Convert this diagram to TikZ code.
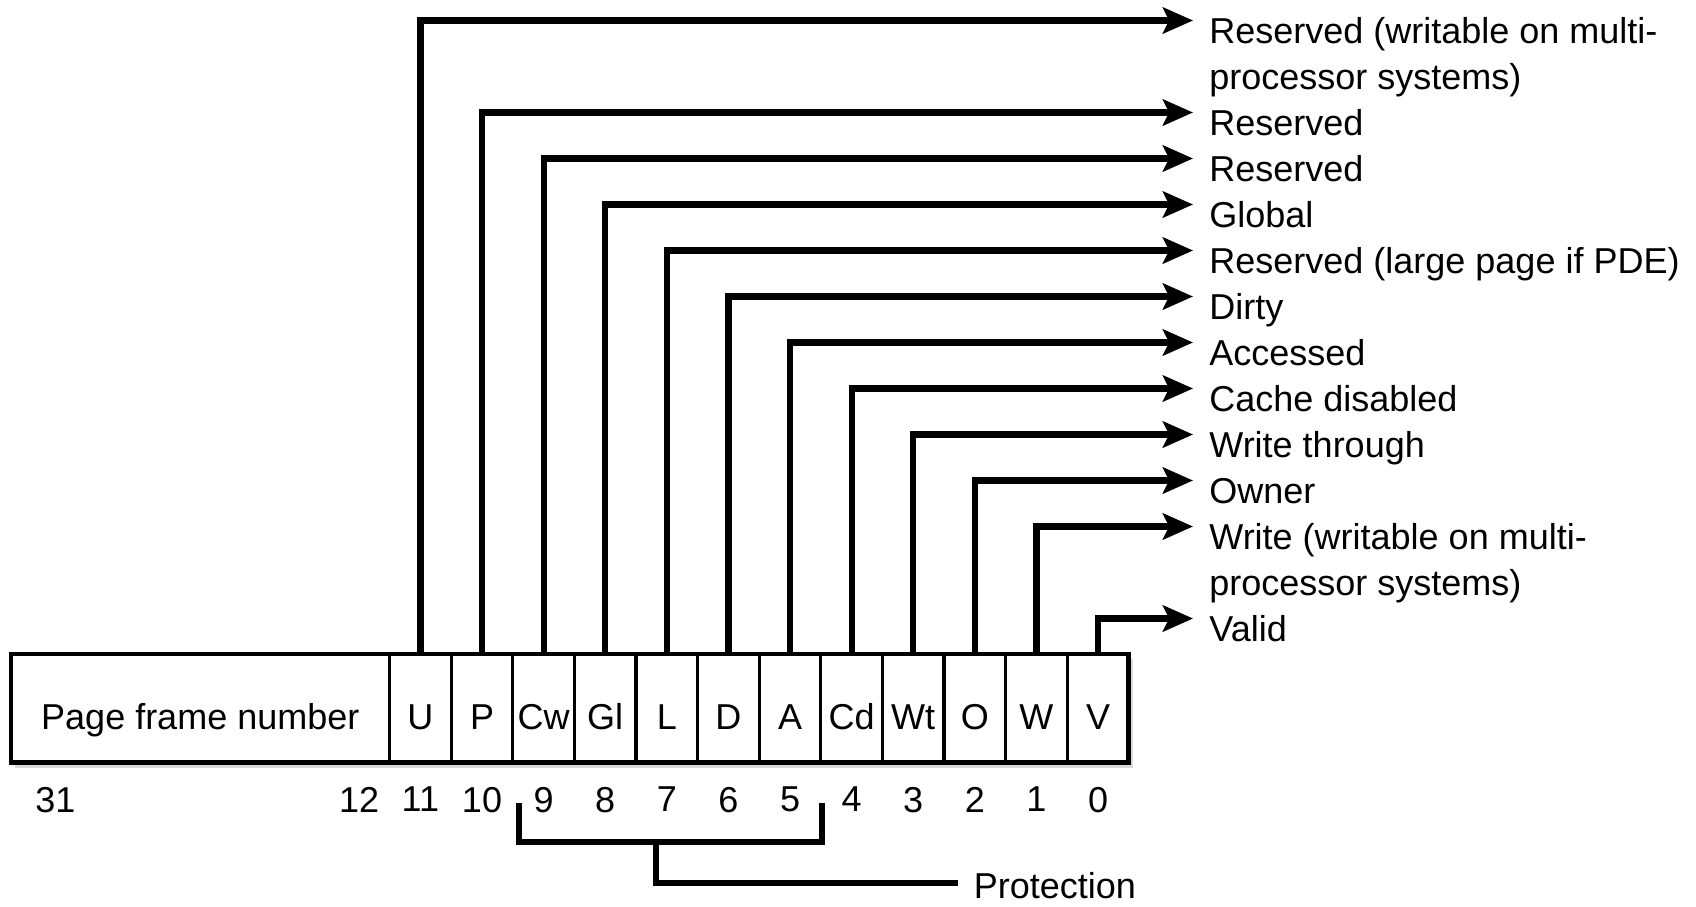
\documentclass[tikz,border=0pt]{standalone}
\usepackage{fontspec}
\setmainfont{Liberation Sans}
\usetikzlibrary{arrows.meta, positioning, backgrounds}

\begin{document}
\begin{tikzpicture}[
  x=0.5pt, y=-0.5pt,
  font=\fontsize{18}{23}\selectfont,
  cell/.style={rectangle, draw, line width=1.6pt, fill=white, minimum width=30.8pt, minimum height=54.25pt, inner sep=0pt, outer sep=0pt, text height=21.5pt, text depth=0pt},
  num/.style={inner sep=0pt},
  lbl/.style={anchor=north west, align=left, inner sep=0pt},
  arr/.style={-{Stealth[length=15pt, width=13pt, inset=3pt]}, line width=3.1pt},
  brk/.style={line width=3.2pt}
]
\useasboundingbox (0,0) rectangle (1696,906);

% the entry
\node[cell, anchor=north west, minimum width=189.3pt] (pfn) at (11,654) {Page frame number};
\node[cell, right=0pt of pfn] (b11) {U};
\node[cell, right=0pt of b11] (b10) {P};
\node[cell, right=0pt of b10] (b9) {Cw};
\node[cell, right=0pt of b9] (b8) {Gl};
\node[cell, right=0pt of b8] (b7) {L};
\node[cell, right=0pt of b7] (b6) {D};
\node[cell, right=0pt of b6] (b5) {A};
\node[cell, right=0pt of b5] (b4) {Cd};
\node[cell, right=0pt of b4] (b3) {Wt};
\node[cell, right=0pt of b3] (b2) {O};
\node[cell, right=0pt of b2] (b1) {W};
\node[cell, right=0pt of b1] (b0) {V};
\draw[line width=2.4pt] (pfn.north west) rectangle (b0.south east);
\begin{scope}[on background layer]
  \fill[black!15] ([shift={(4,5)}]pfn.north west) rectangle ([shift={(4,5)}]b0.south east);
\end{scope}

% bit numbers
\node[num, below right=12pt and 12pt of pfn.south west] (n31) {31};
\node[num, below left=12pt and 5pt of pfn.south east] (n12) {12};
\node[num, below=12pt of b11] (n11) {11};
\node[num, below=12pt of b10] (n10) {10};
\node[num, below=12pt of b9] (n9) {9};
\node[num, below=12pt of b8] (n8) {8};
\node[num, below=12pt of b7] (n7) {7};
\node[num, below=12pt of b6] (n6) {6};
\node[num, below=12pt of b5] (n5) {5};
\node[num, below=12pt of b4] (n4) {4};
\node[num, below=12pt of b3] (n3) {3};
\node[num, below=12pt of b2] (n2) {2};
\node[num, below=12pt of b1] (n1) {1};
\node[num, below=12pt of b0] (n0) {0};

% arrow ends
\coordinate (eU) at (1193,20.5);
\coordinate (eP) at (1193,112.5);
\coordinate (eCw) at (1193,158.5);
\coordinate (eGl) at (1193,204.5);
\coordinate (eL) at (1193,250.5);
\coordinate (eD) at (1193,296.5);
\coordinate (eA) at (1193,342.5);
\coordinate (eCd) at (1193,388.5);
\coordinate (eWt) at (1193,434.5);
\coordinate (eO) at (1193,480.5);
\coordinate (eW) at (1193,526.5);
\coordinate (eV) at (1193,618.5);

\node[lbl] (tU) at ([shift={(16,-10)}]eU) {\strut Reserved (writable on multi-\\processor systems)};
\node[lbl] (tP) at ([shift={(16,-10)}]eP) {\strut Reserved};
\node[lbl] (tCw) at ([shift={(16,-10)}]eCw) {\strut Reserved};
\node[lbl] (tGl) at ([shift={(16,-10)}]eGl) {\strut Global};
\node[lbl] (tL) at ([shift={(16,-10)}]eL) {\strut Reserved (large page if PDE)};
\node[lbl] (tD) at ([shift={(16,-10)}]eD) {\strut Dirty};
\node[lbl] (tA) at ([shift={(16,-10)}]eA) {\strut Accessed};
\node[lbl] (tCd) at ([shift={(16,-10)}]eCd) {\strut Cache disabled};
\node[lbl] (tWt) at ([shift={(16,-10)}]eWt) {\strut Write through};
\node[lbl] (tO) at ([shift={(16,-10)}]eO) {\strut Owner};
\node[lbl] (tW) at ([shift={(16,-10)}]eW) {\strut Write (writable on multi-\\processor systems)};
\node[lbl] (tV) at ([shift={(16,-10)}]eV) {\strut Valid};

\draw[arr] (b11.north) |- (eU);
\draw[arr] (b10.north) |- (eP);
\draw[arr] (b9.north) |- (eCw);
\draw[arr] (b8.north) |- (eGl);
\draw[arr] (b7.north) |- (eL);
\draw[arr] (b6.north) |- (eD);
\draw[arr] (b5.north) |- (eA);
\draw[arr] (b4.north) |- (eCd);
\draw[arr] (b3.north) |- (eWt);
\draw[arr] (b2.north) |- (eO);
\draw[arr] (b1.north) |- (eW);
\draw[arr] (b0.north) |- (eV);

% protection bracket
\coordinate (pl) at (519,803);
\coordinate (pr) at (822,803);
\coordinate (pm) at (656,842);
\node[anchor=west, inner sep=0pt] (prot) at (973.5,886) {Protection};
\draw[brk] (pl) |- (pr |- pm) -- (pr);
\draw[brk] (pm) |- ([xshift=-8pt, yshift=1.5pt]prot.west);
\end{tikzpicture}
\end{document}
